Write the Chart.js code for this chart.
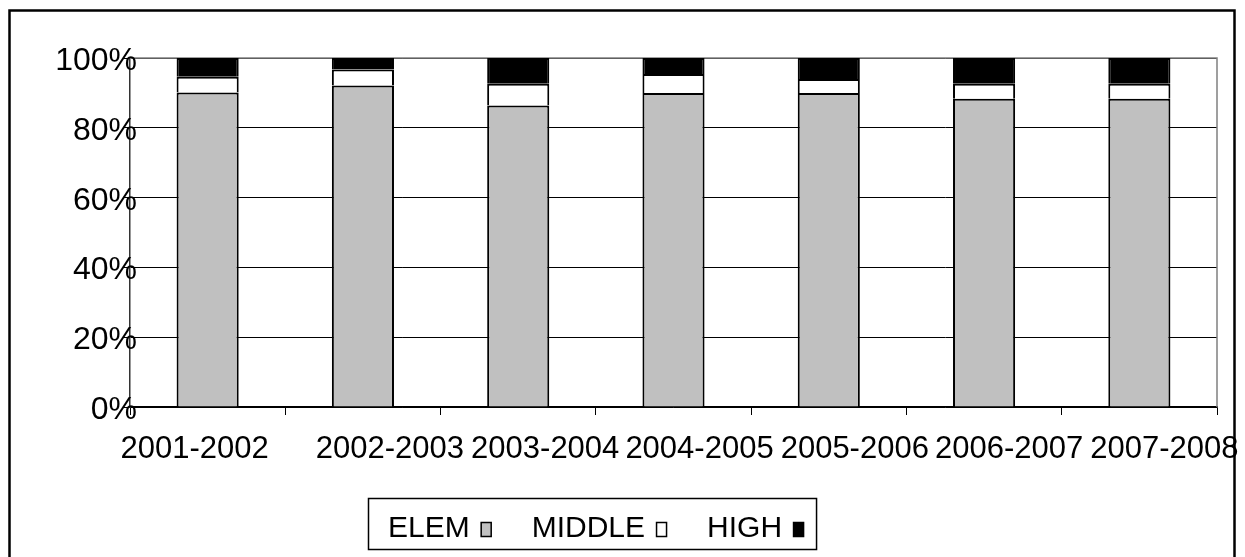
<!DOCTYPE html>
<html>
<head>
<meta charset="utf-8">
<script src="https://cdn.jsdelivr.net/npm/chart.js@4/dist/chart.umd.min.js"></script>
<style>
  html, body { margin: 0; padding: 0; background: #fff; }
  #wrap { width: 1245px; height: 557px; }
</style>
</head>
<body>
<div id="wrap"><canvas id="c" width="1245" height="557"></canvas></div>
<script>
// School years and the share of students in each school level (percent of total)
const years  = ['2001-2002', '2002-2003', '2003-2004', '2004-2005', '2005-2006', '2006-2007', '2007-2008'];
const elem   = [90.1, 92.1, 86.4, 90.0, 90.0, 88.3, 88.3];
const middle = [4.5, 4.6, 6.2, 5.4, 4.0, 4.3, 4.3];
const high   = [5.4, 3.3, 7.4, 4.6, 6.0, 7.4, 7.4];
const seriesNames = ['ELEM', 'MIDDLE', 'HIGH'];

const FONT = '"Liberation Sans", Arial, sans-serif';
// horizontal nudge for each category label under the axis
const labelShift = [-13, 27, 27, 26, 26, 25, 25];

// white page with a black frame around the chart
const framePlugin = {
  id: 'frame',
  beforeDraw(chart) {
    const ctx = chart.ctx;
    ctx.save();
    ctx.fillStyle = '#fff';
    ctx.fillRect(0, 0, chart.width, chart.height);
    ctx.strokeStyle = '#000';
    ctx.lineWidth = 2.5;
    ctx.strokeRect(9.5, 10.5, 1225, 620);
    ctx.restore();
  },
  beforeDatasetsDraw(chart) {
    const a = chart.chartArea, ctx = chart.ctx;
    ctx.save();
    ctx.strokeStyle = '#808080';
    ctx.lineWidth = 1.5;
    ctx.beginPath();
    ctx.moveTo(a.left, a.top);
    ctx.lineTo(a.right, a.top);
    ctx.lineTo(a.right, a.bottom);
    ctx.stroke();
    ctx.restore();
  }
};

// axis labels: categories under the x axis, percentages hugging the y axis
const axisLabelPlugin = {
  id: 'axisLabels',
  afterDraw(chart) {
    const ctx = chart.ctx, xs = chart.scales.x, ys = chart.scales.y;
    ctx.save();
    ctx.fillStyle = '#000';
    ctx.textBaseline = 'alphabetic';
    ctx.font = '31px ' + FONT;
    ctx.textAlign = 'center';
    chart.data.labels.forEach((t, i) => {
      ctx.fillText(t, xs.getPixelForValue(i) + labelShift[i], 458);
    });
    ctx.font = '32px ' + FONT;
    ctx.textAlign = 'right';
    ys.ticks.forEach(tk => {
      ctx.fillText(tk.value + '%', ys.left + ys.width + 7, ys.getPixelForValue(tk.value) + 12);
    });
    ctx.restore();
  }
};

// boxed legend with the swatch after each name
const legendPlugin = {
  id: 'boxLegend',
  afterDraw(chart) {
    const ctx = chart.ctx;
    const sets = chart.data.datasets;
    ctx.save();
    ctx.font = '30px ' + FONT;
    const padL = 20, padR = 12, gapSw = 11, sw = 11, swH = 15, gapItem = 40;
    let total = padL + padR;
    const widths = sets.map(d => ctx.measureText(d.label).width);
    widths.forEach((w, i) => {
      total += w + gapSw + sw + (i < widths.length - 1 ? gapItem : 0);
    });
    const boxL = Math.round(592 - total / 2), boxT = 498, boxH = 51;
    ctx.strokeStyle = '#000';
    ctx.lineWidth = 1.5;
    ctx.strokeRect(boxL + 0.5, boxT + 0.5, total, boxH);
    let x = boxL + padL;
    ctx.textBaseline = 'alphabetic';
    ctx.textAlign = 'left';
    sets.forEach((d, i) => {
      ctx.fillStyle = '#000';
      ctx.fillText(d.label, x, 537);
      x += widths[i] + gapSw;
      ctx.fillStyle = d.backgroundColor;
      ctx.fillRect(x, 522, sw, swH);
      ctx.strokeStyle = '#000';
      ctx.lineWidth = 1.5;
      ctx.strokeRect(x + 0.5, 522.5, sw - 1, swH - 1);
      x += sw + gapItem;
    });
    ctx.restore();
  }
};

const barStyle = { borderColor: '#000', borderWidth: 2, barPercentage: 0.5, categoryPercentage: 0.8 };

new Chart(document.getElementById('c'), {
  type: 'bar',
  data: {
    labels: years,
    datasets: [
      Object.assign({ label: seriesNames[0], data: elem,   backgroundColor: '#C0C0C0' }, barStyle),
      Object.assign({ label: seriesNames[1], data: middle, backgroundColor: '#FFFFFF' }, barStyle),
      Object.assign({ label: seriesNames[2], data: high,   backgroundColor: '#000000' }, barStyle)
    ]
  },
  options: {
    responsive: false,
    animation: false,
    devicePixelRatio: 1,
    layout: { padding: { top: 58, right: 28, left: 0, bottom: 0 } },
    plugins: {
      legend: { display: false },
      tooltip: { enabled: false }
    },
    scales: {
      x: {
        stacked: true,
        grid: { display: true, drawOnChartArea: false, drawTicks: true, tickLength: 8, color: '#000', lineWidth: 1, offset: true },
        border: { display: true, color: '#000', width: 1.5 },
        ticks: { display: false },
        afterFit(scale) { scale.height = 150; }
      },
      y: {
        stacked: true,
        min: 0,
        max: 100,
        grid: { color: '#000', lineWidth: 1, tickLength: 7, drawTicks: true },
        border: { display: true, color: '#333', width: 1.5 },
        ticks: { stepSize: 20, display: false },
        afterFit(scale) { scale.width = 130; }
      }
    }
  },
  plugins: [framePlugin, axisLabelPlugin, legendPlugin]
});
</script>
</body>
</html>
